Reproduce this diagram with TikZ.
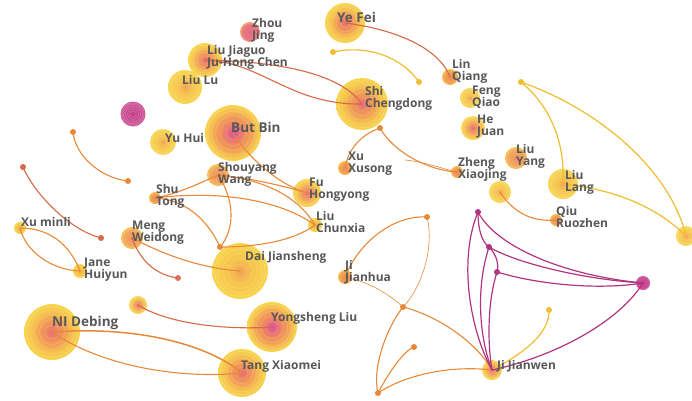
\documentclass[tikz,border=0pt]{standalone}
\usepackage{fontspec}
\setmainfont{Open Sans}
\definecolor{labc}{HTML}{585858}
\definecolor{eor}{HTML}{E8893A}
\definecolor{ered}{HTML}{D66A45}
\definecolor{eyel}{HTML}{F0BE30}
\definecolor{emag}{HTML}{B03580}
\definecolor{yel}{HTML}{F8D64E}
\definecolor{yel2}{HTML}{F6C24C}
\definecolor{ora}{HTML}{F2A256}
\definecolor{ora2}{HTML}{EE8A5C}
\definecolor{pnk}{HTML}{E86A80}
\definecolor{mag}{HTML}{D0589A}
\definecolor{magd}{HTML}{C04088}
\definecolor{redn}{HTML}{E26A72}
\definecolor{pdot}{HTML}{E0706A}
\pgfdeclareradialshading{ringBig}{\pgfpoint{0bp}{0bp}}{color(0bp)=(pnk); color(6bp)=(ora2); color(12bp)=(ora); color(18bp)=(yel2); color(25bp)=(yel); color(50bp)=(yel)}
\pgfdeclareradialshading{ringPB}{\pgfpoint{0bp}{0bp}}{color(0bp)=(mag); color(5bp)=(pnk); color(10bp)=(ora2); color(16bp)=(ora); color(21bp)=(yel2); color(25bp)=(yel); color(50bp)=(yel)}
\pgfdeclareradialshading{ringY}{\pgfpoint{0bp}{0bp}}{color(0bp)=(ora); color(10bp)=(yel2); color(25bp)=(yel); color(50bp)=(yel)}
\pgfdeclareradialshading{ringO}{\pgfpoint{0bp}{0bp}}{color(0bp)=(ora2); color(18bp)=(ora); color(25bp)=(yel2); color(50bp)=(yel2)}
\pgfdeclareradialshading{ringR}{\pgfpoint{0bp}{0bp}}{color(0bp)=(redn); color(20bp)=(pnk); color(25bp)=(ora); color(50bp)=(ora)}
\pgfdeclareradialshading{ringM}{\pgfpoint{0bp}{0bp}}{color(0bp)=(magd); color(25bp)=(mag); color(50bp)=(mag)}
\begin{document}
\begin{tikzpicture}[x=1pt,y=-1pt,
  nd/.style={circle,inner sep=0,draw=none},
  rings/.style={path picture={\foreach \f in {0.25,0.45,0.62,0.78,0.9}{\draw[white,opacity=.2,line width=.5pt] (path picture bounding box.center) circle[radius={\f*#1pt}];}}},
  dotn/.style={circle,inner sep=0,minimum size=6pt,fill=eor},
  mdot/.style={circle,inner sep=0,minimum size=6pt,fill=emag},
  lab/.style={font=\fontsize{12}{12}\selectfont\bfseries,text=labc,align=left,inner sep=0,anchor=west},
  biglab/.style={lab,font=\fontsize{13.5}{14}\selectfont\bfseries},
  eo/.style={draw=eor,line width=1.1pt},
  er/.style={draw=ered,line width=1.1pt},
  ey/.style={draw=eyel,line width=1.2pt},
  em/.style={draw=emag,line width=1.2pt},
  slim/.style={line width=0.6pt}]
\fill[white] (0,0) rectangle (692,400);
\useasboundingbox (0,0) rectangle (692,400);
% nodes
\node[nd,minimum size=20pt,shading=ringR,rings=10] (zhou) at (250,32) {};
\node[nd,minimum size=40pt,shading=ringBig,rings=20] (yefei) at (345,23) {};
\node[nd,minimum size=34pt,shading=ringBig,rings=17] (liujg) at (205,60) {};
\node[nd,minimum size=34pt,shading=ringY,rings=17] (liulu) at (185,87) {};
\node[nd,minimum size=25pt,shading=ringM,rings=12.5] (pinkn) at (133,114) {};
\node[nd,minimum size=26pt,shading=ringY,rings=13] (yuhui) at (163,142) {};
\node[nd,minimum size=56pt,shading=ringPB,rings=28] (butbin) at (233,133) {};
\node[nd,minimum size=52pt,shading=ringBig,rings=26] (shi) at (362,104) {};
\node[nd,minimum size=16pt,shading=ringO] (linq) at (450,77) {};
\node[nd,minimum size=20pt,shading=ringY,rings=10] (fengq) at (470,98) {};
\node[nd,minimum size=24pt,shading=ringBig,rings=12] (hejuan) at (473,128) {};
\node[nd,minimum size=22pt,shading=ringO,rings=11] (liuyang) at (516,158) {};
\node[nd,minimum size=12pt,shading=ringO] (zheng) at (457,172) {};
\node[nd,minimum size=22pt,shading=ringY,rings=11] (yelu) at (500,192) {};
\node[nd,minimum size=30pt,shading=ringY,rings=15] (liulang) at (563,184) {};
\node[nd,minimum size=12pt,shading=ringO] (qiu) at (556,220) {};
\node[nd,minimum size=20pt,shading=ringY,rings=10] (rightn) at (686,236) {};
\node[nd,minimum size=14pt,shading=ringO] (xuxs) at (345,168) {};
\node[nd,minimum size=28pt,shading=ringBig,rings=14] (fuhy) at (307,193) {};
\node[nd,minimum size=22pt,shading=ringO,rings=11] (shouy) at (218,175) {};
\node[nd,minimum size=12pt,shading=ringO] (shutong) at (155,198) {};
\node[nd,minimum size=14pt,shading=ringY] (liucx) at (315,225) {};
\node[nd,minimum size=22pt,shading=ringO,rings=11] (meng) at (132,238) {};
\node[nd,minimum size=56pt,shading=ringY,rings=28] (dai) at (240,271) {};
\node[nd,minimum size=12pt,shading=ringY] (xuml) at (20,228) {};
\node[nd,minimum size=14pt,shading=ringY] (jane) at (80,271) {};
\node[nd,minimum size=14pt,shading=ringO] (jijh) at (345,277) {};
\node[nd,minimum size=18pt,shading=ringBig,rings=9] (psmall) at (138,305) {};
\node[nd,minimum size=56pt,shading=ringBig,rings=28] (nide) at (52,332) {};
\node[nd,minimum size=50pt,shading=ringPB,rings=25] (yongs) at (272,327) {};
\node[nd,minimum size=48pt,shading=ringBig,rings=24] (tang) at (242,373) {};
\node[nd,minimum size=20pt,shading=ringBig,rings=10] (jijw) at (492,370) {};
\node[nd,minimum size=14pt,shading=ringM] (bigmag) at (643,283) {};
% dots
\node[dotn,fill=eyel] (y1) at (333,52) {};
\node[dotn,fill=eyel] (y2) at (419,82) {};
\node[dotn,fill=eyel] (y3) at (521,82) {};
\node[dotn,fill=eyel] (y4) at (549,310) {};
\node[dotn] (shid) at (380,128) {};
\node[dotn] (od1) at (220,247) {};
\node[dotn,fill=ered] (od2) at (23,167) {};
\node[dotn,fill=ered] (od3) at (101,238) {};
\node[dotn] (od4) at (73,132) {};
\node[dotn] (od5) at (128,181) {};
\node[dotn,fill=pdot] (pd) at (178,278) {};
\node[dotn] (od6) at (427,217) {};
\node[dotn] (od7) at (403,307) {};
\node[dotn] (od8) at (378,393) {};
\node[dotn] (od9) at (414,347) {};
\node[mdot] (m1) at (478,212) {};
\node[mdot] (m2) at (489,247) {};
\node[mdot] (m3) at (497,272) {};
\coordinate (zc) at (405,160);
% edges
\draw[er] (yefei.center) .. controls (400,30) and (440,50) .. (linq.center);
\draw[ey] (y1.center) .. controls (365,45) and (400,55) .. (y2.center);
\draw[er] (liujg.center) .. controls (300,62) and (345,80) .. (shi.center);
\draw[er] (liujg.center) .. controls (262,62) and (290,105) .. (shi.center);
\draw[eo] (shid.center) .. controls (360,135) and (348,150) .. (xuxs.center);
\draw[eo] (shid.center) .. controls (392,150) and (425,170) .. (zheng.center);
\draw[eo,slim] (zc) .. controls (425,162) and (440,168) .. (zheng.center);
\draw[eo] (yelu.center) .. controls (515,215) and (535,222) .. (qiu.center);
\draw[ey] (y3.center) .. controls (555,110) and (565,150) .. (liulang.center);
\draw[ey] (y3.center) .. controls (600,110) and (670,170) .. (rightn.center);
\draw[ey] (liulang.center) .. controls (620,190) and (660,210) .. (rightn.center);
\draw[eo] (butbin.center) .. controls (250,160) and (280,185) .. (fuhy.center);
\draw[eo] (shouy.center) .. controls (250,178) and (280,185) .. (fuhy.center);
\draw[eo] (shouy.center) .. controls (270,180) and (300,200) .. (liucx.center);
\draw[eo] (shouy.center) .. controls (200,183) and (180,193) .. (shutong.center);
\draw[eo] (shutong.center) .. controls (220,190) and (280,200) .. (liucx.center);
\draw[eo] (shutong.center) .. controls (190,200) and (210,225) .. (od1.center);
\draw[eo] (shouy.center) .. controls (235,200) and (235,230) .. (od1.center);
\draw[eo] (od1.center) .. controls (260,247) and (295,240) .. (liucx.center);
\draw[eo] (meng.center) .. controls (165,255) and (200,268) .. (dai.center);
\draw[er] (meng.center) .. controls (140,260) and (155,275) .. (pd.center);
\draw[eo] (xuml.center) .. controls (50,228) and (70,245) .. (jane.center);
\draw[eo] (xuml.center) .. controls (25,250) and (50,270) .. (jane.center);
\draw[er] (od2.center) .. controls (35,195) and (70,230) .. (od3.center);
\draw[eo] (od4.center) .. controls (75,155) and (100,178) .. (od5.center);
\draw[er] (psmall.center) .. controls (170,325) and (230,330) .. (yongs.center);
\draw[eo,line width=1.5pt] (nide.center) .. controls (150,325) and (215,350) .. (tang.center);
\draw[eo] (nide.center) .. controls (95,362) and (170,380) .. (tang.center);
\draw[eo] (jijh.center) .. controls (360,240) and (395,215) .. (od6.center);
\draw[eo,slim] (od6.center) .. controls (435,250) and (420,290) .. (od7.center);
\draw[eo,slim] (jijh.center) .. controls (370,282) and (390,295) .. (od7.center);
\draw[eo] (od7.center) .. controls (435,315) and (475,340) .. (jijw.center);
\draw[eo] (od7.center) .. controls (385,330) and (372,370) .. (od8.center);
\draw[eo] (od8.center) .. controls (390,370) and (405,350) .. (od9.center);
\draw[eo] (od8.center) .. controls (405,375) and (450,365) .. (jijw.center);
\draw[ey] (jijw.center) .. controls (520,355) and (550,335) .. (y4.center);
\draw[em] (m1.center) .. controls (458,260) and (470,330) .. (jijw.center);
\draw[em] (m2.center) .. controls (475,290) and (480,340) .. (jijw.center);
\draw[em] (m3.center) .. controls (488,300) and (487,340) .. (jijw.center);
\draw[em] (m1.center) .. controls (495,245) and (560,275) .. (bigmag.center);
\draw[em] (m2.center) .. controls (520,265) and (590,280) .. (bigmag.center);
\draw[em] (m3.center) .. controls (540,285) and (600,290) .. (bigmag.center);
\draw[em] (jijw.center) .. controls (560,355) and (620,320) .. (bigmag.center);
\draw[em] (m1.center) .. controls (478,230) and (482,242) .. (m2.center);
\draw[em] (m2.center) .. controls (497,255) and (499,265) .. (m3.center);
% labels
\node[lab] (lzhou) at (252,30) {Zhou\\Jing};
\node[biglab] (lyefei) at (337,17) {Ye Fei};
\node[lab] (lliujg) at (207,57) {Liu Jiaguo\\Ju-Hong Chen};
\node[lab] (lliulu) at (182,80) {Liu Lu};
\node[lab] (lyuhui) at (165,138) {Yu Hui};
\node[biglab] (lbutbin) at (231,127) {But Bin};
\node[lab] (lshi) at (365,98) {Shi\\Chengdong};
\node[lab] (llinq) at (452,71) {Lin\\Qiang};
\node[lab] (lfengq) at (472,97) {Feng\\Qiao};
\node[lab] (lhejuan) at (477,126) {He\\Juan};
\node[lab] (lliuyang) at (516,156) {Liu\\Yang};
\node[lab] (lzheng) at (458,169) {Zheng\\Xiaojing};
\node[lab] (lliulang) at (565,182) {Liu\\Lang};
\node[lab] (lqiu) at (556,217) {Qiu\\Ruozhen};
\node[lab] (lxuxs) at (348,164) {Xu\\Xusong};
\node[lab] (lfuhy) at (309,190) {Fu\\Hongyong};
\node[lab] (lshouy) at (218,174) {Shouyang\\Wang};
\node[lab] (lshutong) at (156,196) {Shu\\Tong};
\node[lab] (lliucx) at (316,222) {Liu\\Chunxia};
\node[lab] (lmeng) at (132,233) {Meng\\Weidong};
\node[lab] (ldai) at (245,257) {Dai Jiansheng};
\node[lab] (lxuml) at (21,222) {Xu minli};
\node[lab] (ljane) at (84,270) {Jane\\Huiyun};
\node[lab] (ljijh) at (345,272) {Ji\\Jianhua};
\node[biglab] (lnide) at (52,323) {NI Debing};
\node[lab] (lyongs) at (271,318) {Yongsheng Liu};
\node[lab] (ltang) at (241,366) {Tang Xiaomei};
\node[lab] (ljijw) at (497,366) {Ji Jianwen};
\end{tikzpicture}
\end{document}
